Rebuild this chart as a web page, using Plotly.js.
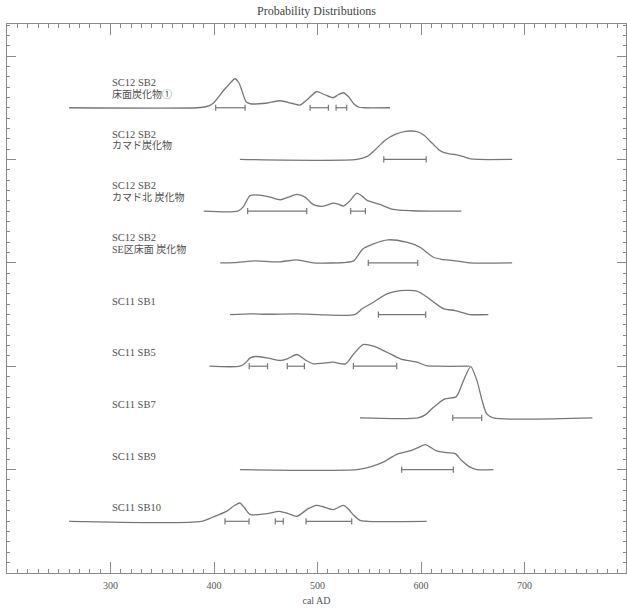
<!DOCTYPE html>
<html>
<head>
<meta charset="utf-8">
<script src="https://cdn.plot.ly/plotly-3.0.1.min.js"></script>
<style>body{margin:0;padding:0;background:#fff}#chart{width:627px;height:608px}</style>
</head>
<body>
<div id="chart"></div>
<script>
// ---- data ----
const labelLine1 = ["SC12 SB2","SC12 SB2","SC12 SB2","SC12 SB2","SC11 SB1","SC11 SB5","SC11 SB7","SC11 SB9","SC11 SB10"];
const labelLine2 = ["床面炭化物①","カマド炭化物","カマド北 炭化物","SE区床面 炭化物","","","","",""];

// calendar years (cal AD) and relative probability for each sample
const r1Years = [260,384,392,399,409,416,420,424,427,431,435,450,464,475,483,490,499,507,515,520,525,530,535,540,545,570];
const r1Prob  = [0,0,1,4.3,17,25,29,25,17,6,4,4.5,7,4.5,2.7,8,16,13,10,13,15,11,4,0.5,0,0];
const r1Ranges = [[401.6,430],[492.8,510.5],[517.9,528.2]];

const r2Years = [425,538,548,556,565,575,585,595,602,610,618,625,632,640,648,655,688];
const r2Prob  = [0,0,3,10,19,25,28,28,25,17,9,6,5,3,0.5,0,0];
const r2Ranges = [[564,605]];

const r3Years = [390,423,428,435,444,454,464,472,480,488,494,498,506,515,520,525,531,538,543,548,560,573,592,610,639];
const r3Prob  = [0,0,4,15.7,16,14,11.4,14,16.7,14,8,5.7,5,8,7,5,10,18,15,10.7,6.7,1.7,0.4,0,0];
const r3Ranges = [[432.5,489.6],[532,546.2]];

const r4Years = [406,420,441,455,464,480,496,528,535,544,554,568,586,599,606,612,620,631,640,647,688];
const r4Prob  = [0,0.3,2,1,1,3,0,0.5,2,14,19,23,20.6,15.6,10,5.6,3.5,2.3,1,0,0];
const r4Ranges = [[549,596.8]];

const r5Years = [415.5,436,450,480,500,536,543,554,567,580,596,606,614,622,633,640,647,665];
const r5Prob  = [0,0.7,0.3,0.7,0,0,5.7,12.3,20.7,24,23.3,17.3,11,5.7,4,2,0,0];
const r5Ranges = [[558.8,604.5]];

const r6Years = [395.5,425,430,435,440,451,464,472,480,488,496,505,515,527,535,544,554,567,580,596,605,615,647];
const r6Prob  = [0,0,3,8.4,9.7,8.4,5.7,8,11.7,6.4,2.4,3,4,2.4,12.4,21.7,20,14,7.4,4,0.7,0,0];
const r6Ranges = [[434,451.7],[470.8,487.3],[534.6,576.5]];

const r7Years = [541,597,604,612,623,634,641,648,654,659,663.5,670,765.5];
const r7Prob  = [0,0,3,10.6,19,21.3,37.3,51.3,37.3,17.3,4,0,0];
const r7Ranges = [[630.6,658.6]];

const r8Years = [425,538,551,564,576.5,589,597,604,615,625,633,639,647,654,670];
const r8Prob  = [0,0,2.7,7.7,15.3,18.7,22,25,18.7,17,16,9.3,2.7,0,0];
const r8Ranges = [[581.3,631.2]];

const r9Years = [260,388,399,412,420,425,429,435,451,463,471,480,491,499,507,515,525,530,535,541,548,605.5];
const r9Prob  = [0,0,4.3,10,16,18.3,14,6.7,7.7,10,8,5,12.7,16,14,11.7,16,12,6,1,0,0];
const r9Ranges = [[410.6,433.8],[459.2,466.9],[488.9,533]];

const xTickVals = [300,400,500,600,700];

// ---- build the chart ----
const yearsList  = [r1Years,r2Years,r3Years,r4Years,r5Years,r6Years,r7Years,r8Years,r9Years];
const probList   = [r1Prob,r2Prob,r3Prob,r4Prob,r5Prob,r6Prob,r7Prob,r8Prob,r9Prob];
const rangesList = [r1Ranges,r2Ranges,r3Ranges,r4Ranges,r5Ranges,r6Ranges,r7Ranges,r8Ranges,r9Ranges];

const GREY = '#777777';
const ROW_STEP = 5, TOP_BASE = 45, PROB_SCALE = 1/10.34, CAP = 0.3;
const traces = [];
const annotations = [];
const FONT = 'Liberation Serif, "Noto Sans CJK JP", serif';

yearsList.forEach((yrs, i) => {
  const base = TOP_BASE - ROW_STEP * i;
  traces.push({
    type: 'scatter', mode: 'lines', x: yrs,
    y: probList[i].map(p => base + p * PROB_SCALE),
    line: {color: GREY, width: 1.3, shape: 'spline', smoothing: 0.7},
    hoverinfo: 'skip', showlegend: false
  });
  const bx = [], by = [];
  rangesList[i].forEach(([a, b]) => {
    bx.push(a, b, null, a, a, null, b, b, null);
    by.push(base, base, null, base - CAP, base + CAP, null, base - CAP, base + CAP, null);
  });
  traces.push({
    type: 'scatter', mode: 'lines', x: bx, y: by,
    line: {color: GREY, width: 1.2}, hoverinfo: 'skip', showlegend: false
  });
  const two = labelLine2[i] !== '';
  annotations.push({
    x: 299.5, y: base + (two ? 2.45 : 1.3), xref: 'x', yref: 'y',
    text: labelLine1[i], showarrow: false, xanchor: 'left', yanchor: 'middle',
    font: {family: FONT, size: 10.5, color: '#505050'}
  });
  if (two) {
    annotations.push({
      x: 299.5, y: base + 1.35, xref: 'x', yref: 'y',
      text: labelLine2[i], showarrow: false, xanchor: 'left', yanchor: 'middle',
      font: {family: FONT, size: 10, color: '#505050'}
    });
  }
});

const layout = {
  width: 627, height: 608,
  margin: {l: 7, r: 1, t: 24, b: 35},
  paper_bgcolor: '#fff', plot_bgcolor: '#fff',
  font: {family: FONT, size: 10, color: '#555'},
  title: {text: 'Probability Distributions', x: 0.5, xref: 'paper', y: 1 - 11/608, yref: 'container',
          xanchor: 'center', yanchor: 'middle', font: {family: FONT, size: 12, color: '#444'}},
  xaxis: {
    range: [200, 798], showgrid: false, zeroline: false,
    showline: true, linecolor: '#8a8a8a', linewidth: 1, mirror: 'allticks',
    ticks: 'inside', ticklen: 11, tickcolor: '#8a8a8a', tickwidth: 1,
    tickmode: 'array', tickvals: xTickVals, ticktext: xTickVals.map(String),
    ticklabelstandoff: 3,
    tickfont: {family: FONT, size: 10, color: '#555'},
    minor: {dtick: 10, tick0: 0, ticks: 'inside', ticklen: 4, tickcolor: '#8a8a8a', tickwidth: 1, showgrid: false},
    title: {text: 'cal AD', font: {family: FONT, size: 10, color: '#555'}, standoff: 6}
  },
  yaxis: {
    range: [0, 53.1], showgrid: false, zeroline: false, showticklabels: false,
    showline: true, linecolor: '#8a8a8a', linewidth: 1, mirror: 'allticks',
    ticks: 'inside', ticklen: 9, tickcolor: '#8a8a8a', tickwidth: 1, dtick: 10, tick0: 0,
    minor: {dtick: 1, tick0: 0, ticks: 'inside', ticklen: 3, tickcolor: '#8a8a8a', tickwidth: 1, showgrid: false}
  },
  annotations: annotations,
  showlegend: false
};

Plotly.newPlot('chart', traces, layout, {displayModeBar: false, staticPlot: true});
</script>
</body>
</html>
